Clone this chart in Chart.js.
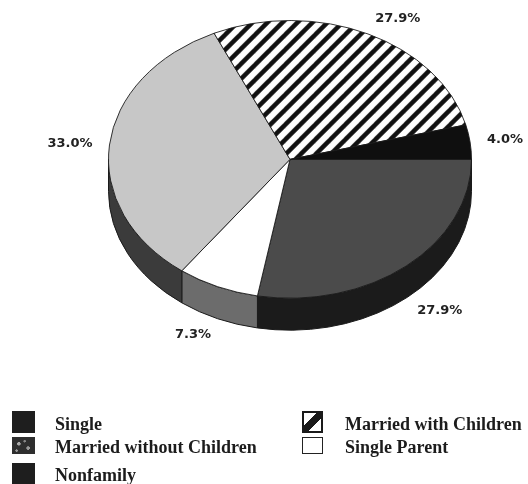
<!DOCTYPE html>
<html><head><meta charset="utf-8">
<script src="https://cdn.jsdelivr.net/npm/chart.js@4"></script>
<style>
html,body{margin:0;padding:0;background:#fff;}
#wrap{position:relative;width:528px;height:484px;overflow:hidden;}
#c{position:absolute;left:0;top:0;}
#legend{position:absolute;left:0;top:0;width:528px;height:484px;font-family:"Liberation Serif","Times New Roman",serif;font-size:18px;font-weight:bold;color:#1c1c1c;}
.sw{position:absolute;box-sizing:border-box;}
.tx{position:absolute;white-space:nowrap;line-height:20px;}
</style></head>
<body><div id="wrap"><canvas id="c" width="528" height="484"></canvas><div id="legend"></div></div>
<script>
// ---- data ----
const categories = ['Single', 'Single Parent', 'Married without Children', 'Married with Children', 'Nonfamily'];
const shares = [27.9, 7.3, 33.0, 27.9, 4.0];
const percentLabels = ['27.9%', '7.3%', '33.0%', '27.9%', '4.0%'];
const legendOrder = ['Single', 'Married with Children', 'Married without Children', 'Single Parent', 'Nonfamily'];

// ---- styles ----
const K = 0.765;        // vertical squash of the pie top
const DEPTH = 32;       // thickness of the 3D pie
const topColors = {
  'Single': '#4b4b4b',
  'Single Parent': '#ffffff',
  'Married without Children': '#c7c7c7',
  'Married with Children': 'HATCH',
  'Nonfamily': '#0f0f0f'
};
const sideColors = {
  'Single': '#1b1b1b',
  'Single Parent': '#6c6c6c',
  'Married without Children': '#3b3b3b',
  'Married with Children': '#222222',
  'Nonfamily': '#0f0f0f'
};

const ctx0 = document.getElementById('c').getContext('2d');
function makeHatch() {
  const p = 15; // horizontal period in final pixels
  const t = document.createElement('canvas');
  t.width = p; t.height = p;
  const g = t.getContext('2d');
  g.fillStyle = '#fff'; g.fillRect(0, 0, p, p);
  g.strokeStyle = '#111'; g.lineWidth = 4.5; g.lineCap = 'square';
  for (const o of [-p, 0, p]) {
    g.beginPath(); g.moveTo(o, p); g.lineTo(o + p, 0); g.stroke();
  }
  const pat = ctx0.createPattern(t, 'repeat');
  pat.setTransform(new DOMMatrix().scale(1, 1 / K));
  return pat;
}
const hatch = makeHatch();
const bg = categories.map(c => topColors[c] === 'HATCH' ? hatch : topColors[c]);

function geom(chart) {
  const el = chart.getDatasetMeta(0).data[0];
  const R = el.outerRadius;
  return { cx: el.x, cyT: (el.y - R) + R * K, rx: R, ry: R * K, cyC: el.y };
}

const pie3d = {
  id: 'pie3d',
  beforeDatasetsDraw(chart) {
    const ctx = chart.ctx;
    const g = geom(chart);
    const meta = chart.getDatasetMeta(0);
    // side walls (front half only)
    meta.data.forEach((el, i) => {
      let a = el.startAngle, b = el.endAngle;
      const TWO = Math.PI * 2;
      while (a >= TWO) { a -= TWO; b -= TWO; }
      while (a < 0) { a += TWO; b += TWO; }
      const ranges = [[0, Math.PI], [TWO, TWO + Math.PI]];
      ranges.forEach(([lo, hi]) => {
        const s = Math.max(a, lo), e = Math.min(b, hi);
        if (e <= s) return;
        ctx.save();
        ctx.beginPath();
        ctx.ellipse(g.cx, g.cyT, g.rx, g.ry, 0, s, e, false);
        ctx.lineTo(g.cx + g.rx * Math.cos(e), g.cyT + g.ry * Math.sin(e) + DEPTH);
        ctx.ellipse(g.cx, g.cyT + DEPTH, g.rx, g.ry, 0, e, s, true);
        ctx.closePath();
        ctx.fillStyle = sideColors[categories[i]];
        ctx.fill();
        ctx.lineWidth = 1;
        ctx.strokeStyle = '#1a1a1a';
        ctx.stroke();
        ctx.restore();
      });
    });
    // squash the top face
    ctx.save();
    ctx.translate(0, g.cyT);
    ctx.scale(1, K);
    ctx.translate(0, -g.cyC);
  },
  afterDatasetsDraw(chart) {
    const ctx = chart.ctx;
    ctx.restore();
    const g = geom(chart);
    const meta = chart.getDatasetMeta(0);
    ctx.save();
    ctx.font = 'bold 13px "DejaVu Sans", sans-serif';
    ctx.fillStyle = '#222';
    ctx.textBaseline = 'middle';
    meta.data.forEach((el, i) => {
      const m = (el.startAngle + el.endAngle) / 2;
      const c = Math.cos(m), s = Math.sin(m);
      const ex = g.cx + g.rx * c;
      const ey = g.cyT + g.ry * s + (s > 0 ? DEPTH : 0);
      const d = 17;
      ctx.textAlign = c >= 0 ? 'left' : 'right';
      ctx.fillText(percentLabels[i], ex + d * c, ey + d * s);
    });
    ctx.restore();
  }
};

new Chart(document.getElementById('c'), {
  type: 'pie',
  data: {
    labels: categories,
    datasets: [{
      data: shares,
      backgroundColor: bg,
      borderColor: '#1a1a1a',
      borderWidth: 1,
      clip: false
    }]
  },
  options: {
    responsive: false,
    animation: false,
    events: [],
    rotation: 90,
    layout: { padding: { left: 108, right: 56, top: 20, bottom: 100 } },
    plugins: { legend: { display: false }, tooltip: { enabled: false } }
  },
  plugins: [pie3d]
});

// ---- legend (HTML, real text) ----
const legendSwatch = {
  'Single': 'background:#1e1e1e;',
  'Married with Children': 'border:2.5px solid #1a1a1a;background:linear-gradient(to bottom right,#fff 36%,#1a1a1a 36%,#1a1a1a 64%,#fff 64%);',
  'Married without Children': 'background:radial-gradient(circle at 30% 40%,#aaa 0 1.5px,transparent 2px),radial-gradient(circle at 70% 65%,#999 0 1.5px,transparent 2px),radial-gradient(circle at 55% 25%,#888 0 1px,transparent 1.5px),radial-gradient(circle at 20% 80%,#999 0 1px,transparent 1.5px),#2e2e2e;',
  'Single Parent': 'border:1.5px solid #222;background:#fff;',
  'Nonfamily': 'background:#1e1e1e;'
};
const colX = [12, 302], colW = [23, 21], textX = [55, 345];
const rowTop = [411, 437, 463], rowH = [22, 17, 22], textCY = [424, 447, 475];
const lg = document.getElementById('legend');
legendOrder.forEach((name, i) => {
  const col = i % 2, row = Math.floor(i / 2);
  const sw = document.createElement('div');
  sw.className = 'sw';
  sw.style.cssText = 'left:' + colX[col] + 'px;top:' + rowTop[row] + 'px;width:' + colW[col] + 'px;height:' + rowH[row] + 'px;' + legendSwatch[name];
  lg.appendChild(sw);
  const tx = document.createElement('span');
  tx.className = 'tx';
  tx.style.left = textX[col] + 'px';
  tx.style.top = (textCY[row] - 10) + 'px';
  tx.textContent = name;
  lg.appendChild(tx);
});
</script>
</body></html>
